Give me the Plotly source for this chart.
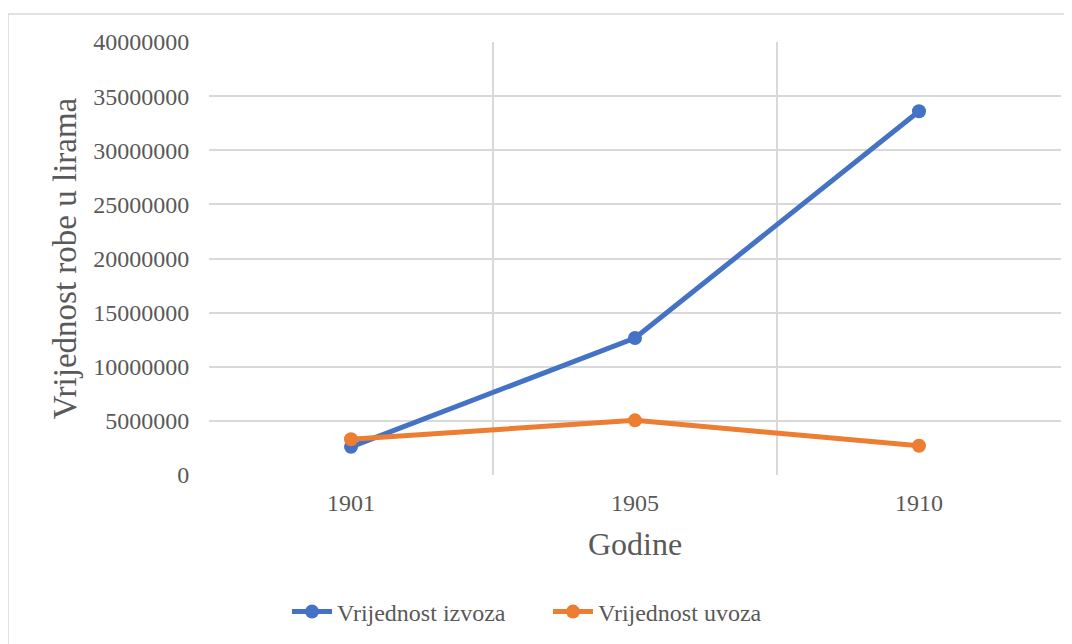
import plotly.graph_objects as go

years = ["1901", "1905", "1910"]
izvoz = [2600000, 12650000, 33600000]
uvoz = [3300000, 5050000, 2700000]
y_ticks = [0, 5000000, 10000000, 15000000, 20000000, 25000000, 30000000, 35000000, 40000000]

font_family = "Liberation Serif, Times New Roman, serif"
gray = "#595959"
grid = "#d9d9d9"

xpos = list(range(len(years)))

# the page has an 8px body margin; margins are shifted to compensate
L, R, T, B = 201, 19, 34, 177
pw = 1072 - L - R
ph = 644 - T - B

fig = go.Figure()
fig.add_trace(go.Scatter(x=xpos, y=izvoz, mode="lines+markers", name="Vrijednost izvoza",
                         line=dict(color="#4472c4", width=5), marker=dict(size=14, color="#4472c4")))
fig.add_trace(go.Scatter(x=xpos, y=uvoz, mode="lines+markers", name="Vrijednost uvoza",
                         line=dict(color="#ed7d31", width=5), marker=dict(size=14, color="#ed7d31")))

fig.update_layout(
    width=1072, height=644,
    margin=dict(l=L, r=R, t=T, b=B),
    paper_bgcolor="white", plot_bgcolor="white",
    font=dict(family=font_family, color=gray, size=24),
    showlegend=True,
    legend=dict(orientation="h", x=(287 - 8 - L) / pw, xanchor="left",
                y=(475 - 612) / ph, yanchor="middle", entrywidth=206,
                font=dict(size=24, color=gray), itemwidth=40),
    shapes=[dict(type="rect", xref="paper", yref="paper",
                 x0=(8 - 209) / pw, x1=1.2, y0=-0.6, y1=(475 - 14) / ph,
                 line=dict(color=grid, width=1.5), fillcolor="rgba(0,0,0,0)", layer="below")],
)
fig.update_xaxes(
    range=[-0.5, len(years) - 0.5], tickmode="array", tickvals=xpos, ticktext=years,
    showgrid=False, zeroline=False, showline=False,
    ticks="outside", ticklen=6, tickcolor="rgba(0,0,0,0)",
    tickfont=dict(size=24, color=gray),
    minor=dict(tickmode="array", tickvals=[i - 0.5 for i in range(len(years) + 1)],
               showgrid=True, gridcolor=grid, gridwidth=1.5, ticks=""),
    title=dict(text="Godine", font=dict(size=32, color=gray), standoff=17),
)
fig.update_yaxes(
    range=[0, 40000000], tickmode="array", tickvals=y_ticks, tickformat="d",
    showgrid=True, gridcolor=grid, gridwidth=1.5, zeroline=False, showline=False,
    ticks="outside", ticklen=14, tickcolor="rgba(0,0,0,0)",
    tickfont=dict(size=24, color=gray),
    title=dict(text="Vrijednost robe u lirama", font=dict(size=33, color=gray), standoff=6),
)

fig.write_html("out.html")
